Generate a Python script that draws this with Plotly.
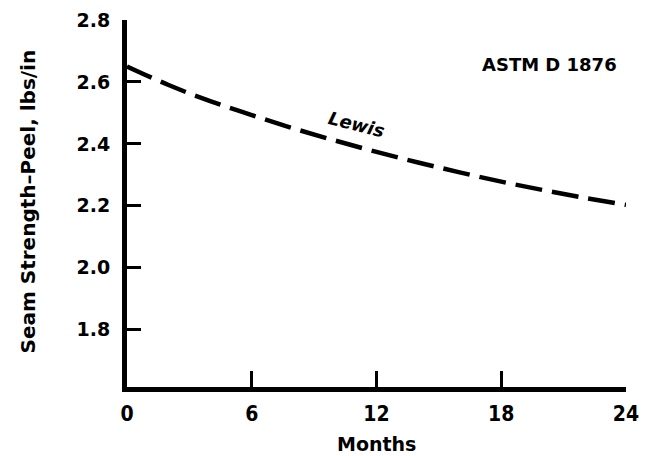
import plotly.graph_objects as go

months = [0, 2, 4, 6, 8, 10, 12, 14, 16, 18, 20, 22, 24]
lewis = [2.65, 2.59, 2.538, 2.493, 2.450, 2.411, 2.374, 2.340, 2.308, 2.278, 2.251, 2.226, 2.203]
x_ticks = [0, 6, 12, 18, 24]
x_ticklabels = ["0", "6", "12", "18", "24"]
y_ticks = [1.8, 2.0, 2.2, 2.4, 2.6, 2.8]
y_ticklabels = ["1.8", "2.0", "2.2", "2.4", "2.6", "2.8"]

FONT = "DejaVu Sans, Liberation Sans, Arial, sans-serif"
FONT_COND = "DejaVu Sans Condensed, DejaVu Sans, sans-serif"

fig = go.Figure()
fig.add_trace(go.Scatter(
    x=months, y=lewis, mode="lines",
    line=dict(color="black", width=4.5, dash="27px,10px", shape="spline"),
    showlegend=False, hoverinfo="skip",
))

fig.update_layout(
    width=644, height=448,
    margin=dict(l=119, r=26, t=12, b=69, autoexpand=False),
    paper_bgcolor="white", plot_bgcolor="white",
    font=dict(family=FONT, color="black"),
    xaxis=dict(
        range=[0, 24], tickvals=x_ticks, ticktext=x_ticklabels,
        ticks="inside", ticklen=16, tickwidth=3, tickcolor="black",
        showline=True, linewidth=5, linecolor="black",
        showgrid=False, zeroline=False, automargin=False,
        tickfont=dict(size=21, family=FONT_COND, weight="bold"),
        ticklabelstandoff=4,
    ),
    yaxis=dict(
        range=[1.615, 2.8], tickvals=y_ticks, ticktext=y_ticklabels,
        ticks="inside", ticklen=14, tickwidth=3, tickcolor="black",
        showline=True, linewidth=5, linecolor="black",
        showgrid=False, zeroline=False, automargin=False,
        tickfont=dict(size=19, family=FONT, weight="bold"),
        ticklabelstandoff=8,
    ),
    annotations=[
        dict(text="Months", xref="paper", yref="paper", x=0.5, y=0,
             yshift=-57, showarrow=False, yanchor="middle",
             font=dict(size=19, family=FONT, weight="bold")),
        dict(text="Seam Strength\u2013Peel, lbs/in", xref="paper", yref="paper",
             x=0, xshift=-100, y=0.5, yshift=2, textangle=-90, showarrow=False,
             xanchor="center", yanchor="middle",
             font=dict(size=20, family=FONT, weight="bold")),
        dict(text="ASTM D 1876", x=20.3, y=2.657, xref="x", yref="y",
             showarrow=False, font=dict(size=18, family=FONT, weight="bold")),
        dict(text="<i>Lewis</i>", x=11.05, y=2.463, xref="x", yref="y",
             showarrow=False, textangle=14,
             font=dict(size=18, family=FONT, weight="bold")),
    ],
)

fig.write_html("out.html")
